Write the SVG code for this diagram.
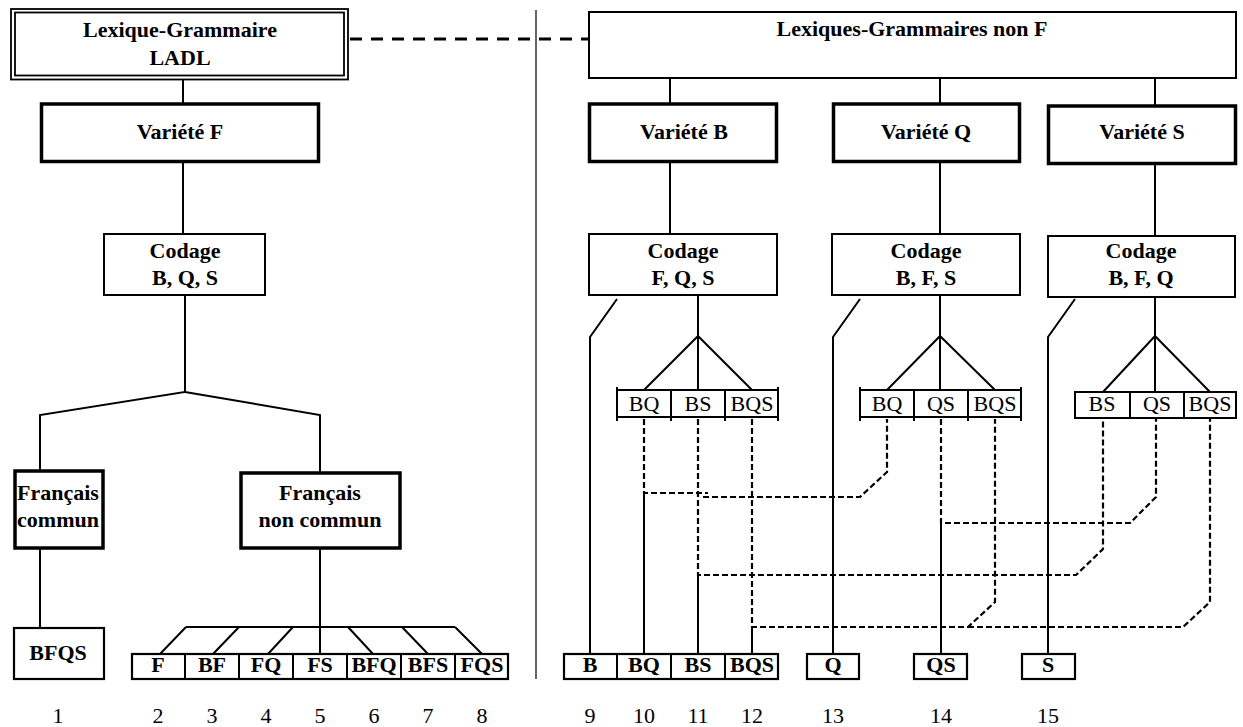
<svg xmlns="http://www.w3.org/2000/svg" width="1243" height="727" viewBox="0 0 1243 727">
<style>
.b{font-family:"Liberation Serif","Times New Roman",serif;font-weight:bold;font-size:22px;text-anchor:middle;fill:#000}
.r{font-family:"Liberation Serif","Times New Roman",serif;font-size:22px;text-anchor:middle;fill:#000}
.thick{fill:#fff;stroke:#000;stroke-width:3.5}
.box{fill:#fff;stroke:#000;stroke-width:2}
.cell{fill:#fff;stroke:#000;stroke-width:2.2}
.ln{fill:none;stroke:#000;stroke-width:2}
.thin{fill:none;stroke:#000;stroke-width:1.2}
.dash{fill:none;stroke:#000;stroke-width:2.2;stroke-dasharray:6 3}
.bigdash{fill:none;stroke:#000;stroke-width:3;stroke-dasharray:12 9}
</style>
<rect width="1243" height="727" fill="#fff"/>
<g id="connectors">
<line class="thin" x1="536" y1="10" x2="536" y2="679"/>
<line class="bigdash" x1="350" y1="39" x2="588" y2="39"/>
<path class="ln" d="M183 80V103M183 162V234M185 296V392L40 415V470M185 392L320 415V472"/>
<path class="ln" d="M40 549V628M320 549V654M186 627H455M186 627L160 654M239 627L213 654M293 627L268 654M348 627L373 654M402 627L428 654M455 627L482 654"/>
<path class="ln" d="M670 79V104M940 79V104M1155 79V106M670 162V234M940 162V234M1155 164V236"/>
<path class="ln" d="M698 296V336L644 390M698 336V390M698 336L752 390M940 296V336L887 390M940 336V390M940 336L995 390M1155 298V336L1103 392M1155 336V392M1155 336L1210 392"/>
<path class="ln" d="M617 299L590 337V654M860 299L833 337V654M1075 299L1048 337V654"/>
<path class="ln" d="M644 493V654M698 575V654M752 627V654M941 523V654"/>
<path class="dash" d="M644 419V493H708M703 497H860L887 472V419"/>
<path class="dash" d="M698 419V575H1076L1103 549V419"/>
<path class="dash" d="M752 419V627H968L995 602V419M968 627H1183L1210 602V419"/>
<path class="dash" d="M941 419V523H1130L1156 497V419"/>
</g>
<g id="lg-ladl">
<rect x="11" y="9" width="337" height="70.5" fill="#fff" stroke="#000" stroke-width="1.8"/>
<rect x="15" y="12.5" width="329" height="63" fill="none" stroke="#000" stroke-width="1.8"/>
<text class="b" x="180" y="37">Lexique-Grammaire</text>
<text class="b" x="180" y="65">LADL</text>
</g>
<g id="lg-nonf">
<rect class="box" x="589" y="12" width="647" height="66"/>
<text class="b" x="912" y="36">Lexiques-Grammaires non F</text>
</g>
<g id="var-f"><rect class="thick" x="41.5" y="104" width="277" height="57.5"/><text class="b" x="180" y="139">Variété F</text></g>
<g id="var-b"><rect class="thick" x="589.5" y="104" width="187" height="57.5"/><text class="b" x="684" y="139">Variété B</text></g>
<g id="var-q"><rect class="thick" x="833.5" y="104" width="186" height="57.5"/><text class="b" x="926" y="139">Variété Q</text></g>
<g id="var-s"><rect class="thick" x="1048.5" y="106" width="187" height="57.5"/><text class="b" x="1142" y="139">Variété S</text></g>
<g id="cod-bqs"><rect class="box" x="104" y="234" width="161" height="61"/><text class="b" x="185" y="258">Codage</text><text class="b" x="185" y="285">B, Q, S</text></g>
<g id="cod-fqs"><rect class="box" x="589" y="234" width="188" height="61"/><text class="b" x="683" y="258">Codage</text><text class="b" x="683" y="285">F, Q, S</text></g>
<g id="cod-bfs"><rect class="box" x="832" y="234" width="188" height="61"/><text class="b" x="926" y="258">Codage</text><text class="b" x="926" y="285">B, F, S</text></g>
<g id="cod-bfq"><rect class="box" x="1048" y="236" width="187" height="61"/><text class="b" x="1141" y="258">Codage</text><text class="b" x="1141" y="285">B, F, Q</text></g>
<g id="fr-commun"><rect class="thick" x="15" y="471" width="88" height="77"/><text class="b" x="58" y="500">Français</text><text class="b" x="58" y="527">commun</text></g>
<g id="fr-noncommun"><rect class="thick" x="241" y="473" width="159" height="75"/><text class="b" x="320" y="500">Français</text><text class="b" x="320" y="527">non commun</text></g>
<g id="bfqs"><rect class="cell" x="14" y="628" width="90" height="51"/><text class="b" x="58" y="660">BFQS</text></g>
<g id="row-f">
<rect class="cell" x="132" y="654" width="376" height="25"/>
<path class="ln" d="M185 654V679M239 654V679M293 654V679M347 654V679M401 654V679M455 654V679"/>
<text class="b" x="158" y="672">F</text><text class="b" x="212" y="672">BF</text><text class="b" x="266" y="672">FQ</text><text class="b" x="320" y="672">FS</text><text class="b" x="374" y="672">BFQ</text><text class="b" x="428" y="672">BFS</text><text class="b" x="482" y="672">FQS</text>
</g>
<g id="row-b">
<rect class="cell" x="564" y="654" width="214" height="25"/>
<path class="ln" d="M617 654V679M671 654V679M725 654V679"/>
<text class="b" x="590" y="672">B</text><text class="b" x="644" y="672">BQ</text><text class="b" x="698" y="672">BS</text><text class="b" x="752" y="672">BQS</text>
</g>
<g id="box-q"><rect class="cell" x="807" y="654" width="52" height="25"/><text class="b" x="833" y="672">Q</text></g>
<g id="box-qs"><rect class="cell" x="914" y="654" width="53" height="25"/><text class="b" x="941" y="672">QS</text></g>
<g id="box-s"><rect class="cell" x="1022" y="654" width="53" height="25"/><text class="b" x="1048" y="672">S</text></g>
<g id="cells-b">
<rect class="box" x="617" y="390" width="161" height="27"/>
<path class="ln" d="M617 387V421M671 390V421M725 390V421M778 387V421"/>
<text class="r" x="644" y="411">BQ</text><text class="r" x="698" y="411">BS</text><text class="r" x="752" y="411">BQS</text>
</g>
<g id="cells-q">
<rect class="box" x="860" y="390" width="161" height="27"/>
<path class="ln" d="M860 387V421M914 390V421M968 390V421M1021 387V421"/>
<text class="r" x="887" y="411">BQ</text><text class="r" x="941" y="411">QS</text><text class="r" x="995" y="411">BQS</text>
</g>
<g id="cells-s">
<rect class="box" x="1075" y="392" width="161" height="26"/>
<path class="ln" d="M1130 392V418M1184 392V418"/>
<text class="r" x="1102" y="411">BS</text><text class="r" x="1157" y="411">QS</text><text class="r" x="1210" y="411">BQS</text>
</g>
<g id="numbers">
<text class="r" x="58" y="723">1</text><text class="r" x="158" y="723">2</text><text class="r" x="212" y="723">3</text><text class="r" x="266" y="723">4</text><text class="r" x="320" y="723">5</text><text class="r" x="374" y="723">6</text><text class="r" x="428" y="723">7</text><text class="r" x="482" y="723">8</text><text class="r" x="590" y="723">9</text><text class="r" x="644" y="723">10</text><text class="r" x="698" y="723">11</text><text class="r" x="752" y="723">12</text><text class="r" x="833" y="723">13</text><text class="r" x="941" y="723">14</text><text class="r" x="1048" y="723">15</text>
</g>
</svg>
